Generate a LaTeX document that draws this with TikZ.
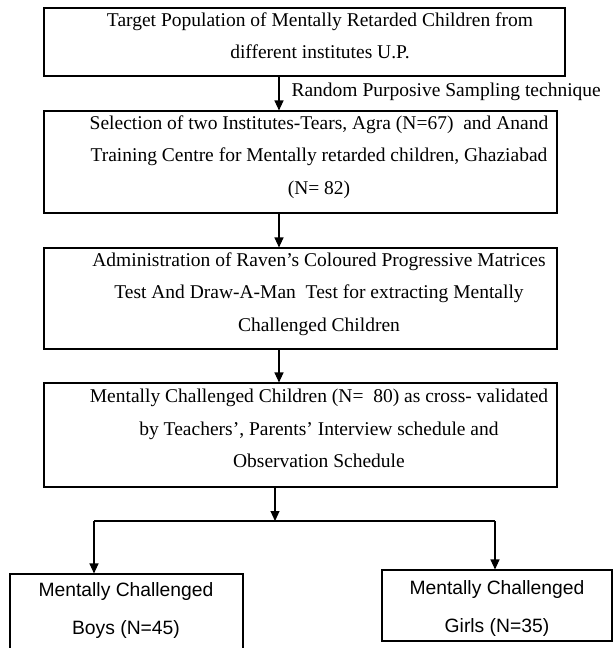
\documentclass[tikz,border=0pt]{standalone}
\usepackage{fontspec}
\setmainfont{Liberation Serif}
\newfontfamily\arialfont{Liberation Sans}
\usetikzlibrary{arrows.meta, positioning}

\begin{document}
\begin{tikzpicture}[x=1pt, y=-1pt, >={Triangle[length=10pt, width=9pt]}, line width=1.1pt,
    box/.style={draw, minimum width=513pt, inner sep=0pt},
    txt/.style={draw=none, align=center, inner sep=0pt, font=\fontsize{19.5}{32.5}\selectfont},
    sans/.style={draw=none, align=center, inner sep=0pt, font=\arialfont\fontsize{19.3}{38}\selectfont}]
    \useasboundingbox (0,0) rectangle (614,648);

    % boxes of the main column
    \node (B1) at (304.5,42) [box, minimum width=521pt, minimum height=68pt] {};
    \node (B2) at (300.5,162) [box, minimum height=102pt] {};
    \node (B3) at (300.5,298.5) [box, minimum height=101pt] {};
    \node (B4) at (300.5,435) [box, minimum height=104pt] {};

    \node (T1) at (320,36) [txt] {Target Population of Mentally Retarded Children from\\different institutes U.P.};
    \node (T2) at (319,157) [txt] {Selection of two Institutes-Tears, Agra (N=67)~ and Anand\\Training Centre for Mentally retarded children, Ghaziabad\\(N= 82)};
    \node (T3) at (319,294) [txt] {Administration of Raven’s Coloured Progressive Matrices\\Test And Draw-A-Man~ Test for extracting Mentally\\Challenged Children};
    \node (T4) at (319,428.5) [txt] {Mentally Challenged Children (N=~ 80) as cross- validated\\by Teachers’, Parents’ Interview schedule and\\Observation Schedule};

    % the two groups
    \node (Boys) at (126.5,613) [box, minimum width=233pt, minimum height=78pt] {};
    \node (Girls) at (497,605.5) [box, minimum width=230pt, minimum height=71pt] {};
    \node (TB) at (126,611) [sans] {Mentally Challenged\\Boys (N=45)};
    \node (TG) at (497,608) [sans] {Mentally Challenged\\Girls (N=35)};

    \coordinate (spine) at (279,0);
    \coordinate (J) at (275,521);
    \coordinate (JL) at (94,521);
    \coordinate (JR) at (495,521);

    \draw[->] (B1.south -| spine) -- (B2.north -| spine)
        node (L1) [pos=0.45, right=12pt, draw=none, inner sep=0pt, font=\fontsize{19.5}{20}\selectfont] {Random Purposive Sampling technique};
    \draw[->] (B2.south -| spine) -- (B3.north -| spine);
    \draw[->] (B3.south -| spine) -- (B4.north -| spine);
    \draw[->] (B4.south -| J) -- (J);
    \draw (JL) -- (JR);
    \draw[->] (JL) -- (Boys.north -| JL);
    \draw[->] (JR) -- (Girls.north -| JR);
\end{tikzpicture}
\end{document}
